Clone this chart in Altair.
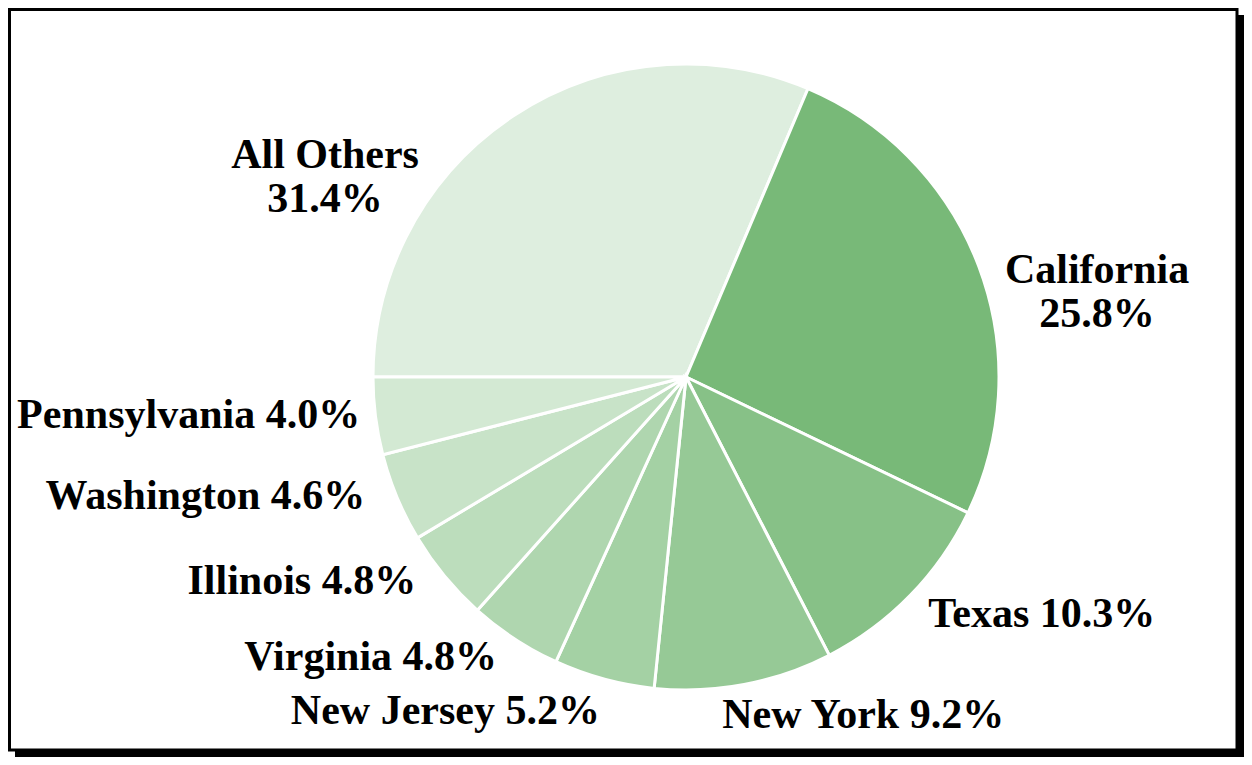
import math
import altair as alt
import pandas as pd

states = ["All Others", "California", "Texas", "New York", "New Jersey",
          "Virginia", "Illinois", "Washington", "Pennsylvania"]
shares = [31.4, 25.8, 10.3, 9.2, 5.2, 4.8, 4.8, 4.6, 4.0]
colors = ["#deeedf", "#78b978", "#87c187", "#96c996", "#a4d1a4",
          "#afd6af", "#bcddbc", "#c8e3c8", "#d3e9d3"]
two_line = ["All Others", "California"]

labels = [f"{s}\n{v:.1f}%" if s in two_line else f"{s} {v:.1f}%"
          for s, v in zip(states, shares)]

df = pd.DataFrame({"state": states, "value": shares, "idx": list(range(len(states))),
                   "label": labels})

W, H = 1236, 749
CX, CY = 678, 369
R = 313

# label placement: (align, radius, theta offset in radians, dy)
placement = {
    "All Others": ("center", 413, -0.478, -21),
    "California": ("center", 420, 0.154, -21),
    "Texas": ("left", 339, 0.003, 0),
    "New York": ("left", 340, 0.080, 0),
    "New Jersey": ("right", 345, -0.013, 0),
    "Virginia": ("right", 338, 0.014, 0),
    "Illinois": ("right", 338, 0.044, 0),
    "Washington": ("right", 342, 0.041, 0),
    "Pennsylvania": ("right", 328, 0.010, 0),
}

theta_scale = alt.Scale(range=[-math.pi / 2, 3 * math.pi / 2])
theta = alt.Theta("value:Q", stack=True, scale=theta_scale)
order = alt.Order("idx:Q", sort="ascending")

base = alt.Chart(df)

shadow = base.mark_rect(fill="black").encode(
    x=alt.value(7), x2=alt.value(W), y=alt.value(7), y2=alt.value(H)
).transform_filter("datum.idx == 0")
frame = base.mark_rect(fill="white", stroke="black", strokeWidth=3).encode(
    x=alt.value(1.5), x2=alt.value(W - 7), y=alt.value(1.5), y2=alt.value(H - 7)
).transform_filter("datum.idx == 0")

pie = base.mark_arc(radius=R, stroke="white", strokeWidth=3).encode(
    theta=theta,
    order=order,
    color=alt.Color("state:N", scale=alt.Scale(domain=states, range=colors), legend=None),
    x=alt.value(CX), y=alt.value(CY),
)

font = dict(font="Liberation Serif", fontWeight="bold", fontSize=42,
            color="black", lineBreak="\n", lineHeight=44, baseline="middle")

layers = [shadow, frame, pie]
for name in states:
    align, radius, offset, dy = placement[name]
    layers.append(
        base.mark_text(align=align, radius=radius, thetaOffset=offset, dy=dy, **font).encode(
            theta=theta,
            order=order,
            text=alt.condition(alt.FieldEqualPredicate(field="state", equal=name),
                               "label:N", alt.value("")),
            x=alt.value(CX), y=alt.value(CY),
        )
    )

chart = alt.layer(*layers).properties(
    width=W, height=H, autosize=alt.AutoSizeParams(type="none"), padding=0
).configure_view(stroke=None)

chart.save("out.html", embed_options={"renderer": "svg", "actions": False})
